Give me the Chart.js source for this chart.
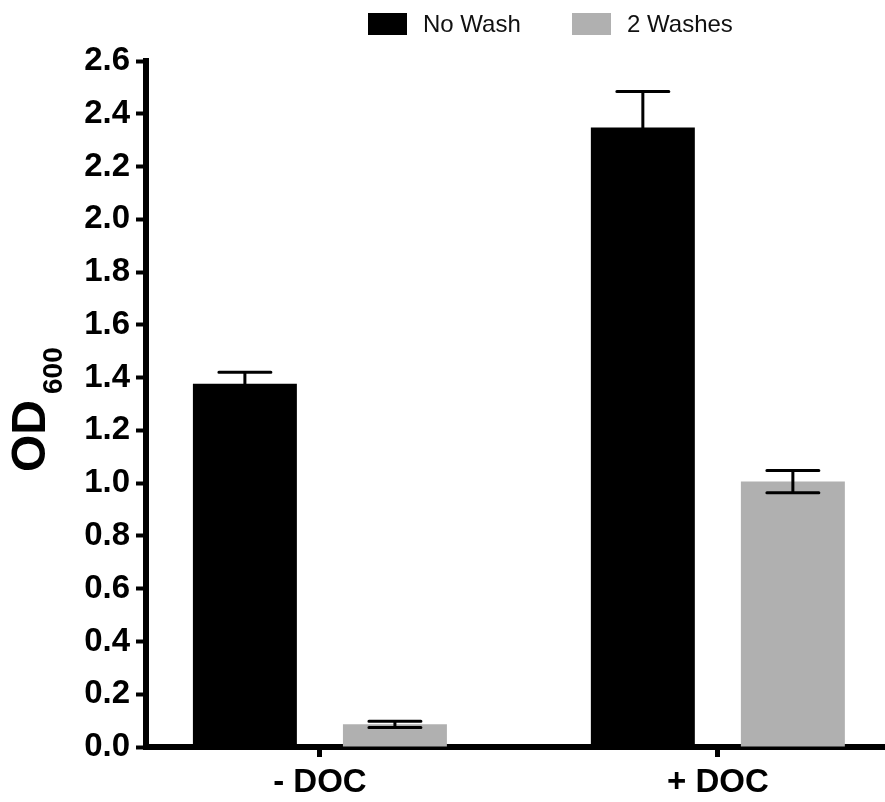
<!DOCTYPE html>
<html>
<head>
<meta charset="utf-8">
<script src="https://cdn.jsdelivr.net/npm/chart.js@4.4.0/dist/chart.umd.min.js"></script>
<style>
  body { margin: 0; background: #fff; }
  #wrap { width: 885px; height: 802px; }
</style>
</head>
<body>
<div id="wrap"><canvas id="mycanvas"></canvas></div>
<script>
// values
var categories = ["- DOC", "+ DOC"];
var seriesNames = ["No Wash", "2 Washes"];
var noWash = [1.377, 2.348];
var noWashErr = [0.043, 0.136];
var twoWashes = [0.086, 1.006];
var twoWashesErr = [0.012, 0.042];
var yMin = 0, yMax = 2.6, yStep = 0.2;

var FONT = '"Liberation Sans", Arial, Helvetica, sans-serif';

function points(vals) {
  return vals.map(function(v, i) { return { x: i, y: v }; });
}

// error bars on top of each bar
var errorBars = {
  id: 'errorBars',
  afterDatasetsDraw: function(chart) {
    var ctx = chart.ctx;
    var ys = chart.scales.y;
    ctx.save();
    ctx.strokeStyle = '#000';
    ctx.lineWidth = 3;
    ctx.lineCap = 'round';
    chart.data.datasets.forEach(function(ds, i) {
      var meta = chart.getDatasetMeta(i);
      meta.data.forEach(function(bar, j) {
        var v = ds.data[j].y, e = ds.errors[j];
        var hi = ys.getPixelForValue(v + e);
        var lo = ys.getPixelForValue(v - e);
        var half = bar.width / 4;
        ctx.beginPath();
        ctx.moveTo(bar.x, hi); ctx.lineTo(bar.x, lo);
        ctx.moveTo(bar.x - half, hi); ctx.lineTo(bar.x + half, hi);
        ctx.moveTo(bar.x - half, lo); ctx.lineTo(bar.x + half, lo);
        ctx.stroke();
      });
    });
    ctx.restore();
  }
};

// OD600 title with subscript, rotated
var yTitle = {
  id: 'yTitle',
  afterDraw: function(chart) {
    var ctx = chart.ctx;
    var a = chart.chartArea;
    var cy = (a.top + a.bottom) / 2;
    ctx.save();
    ctx.translate(45, cy);
    ctx.rotate(-Math.PI / 2);
    ctx.fillStyle = '#000';
    ctx.textBaseline = 'alphabetic';
    ctx.textAlign = 'left';
    ctx.font = 'bold 48px ' + FONT;
    var w = ctx.measureText('OD').width;
    var start = -68;
    ctx.fillText('OD', start, 0);
    ctx.font = 'bold 28px ' + FONT;
    ctx.fillText('600', start + w + 6, 17);
    ctx.restore();
  }
};

// legend at the top
var topLegend = {
  id: 'topLegend',
  afterDraw: function(chart) {
    var ctx = chart.ctx;
    var spots = [368, 572];
    ctx.save();
    ctx.font = '24px ' + FONT;
    ctx.textBaseline = 'middle';
    ctx.textAlign = 'left';
    chart.data.datasets.forEach(function(ds, i) {
      var x = spots[i];
      ctx.fillStyle = ds.backgroundColor;
      ctx.fillRect(x, 13, 39, 22);
      ctx.fillStyle = '#111';
      ctx.fillText(ds.label, x + 55, 25);
    });
    ctx.restore();
  }
};

var ctx = document.getElementById('mycanvas');

var chart = new Chart(ctx, {
  type: 'bar',
  data: {
    datasets: [
      {
        label: seriesNames[0],
        data: points(noWash),
        errors: noWashErr,
        backgroundColor: '#000000',
        borderWidth: 0
      },
      {
        label: seriesNames[1],
        data: points(twoWashes),
        errors: twoWashesErr,
        backgroundColor: '#b0b0b0',
        borderWidth: 0
      }
    ]
  },
  options: {
    responsive: true,
    maintainAspectRatio: false,
    animation: false,
    events: [],
    categoryPercentage: 0.754,
    barPercentage: 0.693,
    layout: { padding: { top: 61, left: 0, right: 0, bottom: 0 } },
    plugins: {
      legend: { display: false },
      tooltip: { enabled: false }
    },
    scales: {
      x: {
        type: 'linear',
        min: -0.437,
        max: 1.42,
        offset: false,
        z: 1,
        afterBuildTicks: function(s) {
          s.ticks = categories.map(function(c, i) { return { value: i }; });
        },
        afterFit: function(s) { s.height = 55; },
        ticks: {
          callback: function(v) { return categories[v]; },
          font: { family: FONT, size: 33, weight: 'bold' },
          color: '#000',
          padding: 6,
          maxRotation: 0,
          autoSkip: false
        },
        grid: { offset: false, drawOnChartArea: false, tickLength: 10, tickWidth: 5, tickColor: '#000' },
        border: { width: 6, color: '#000' }
      },
      y: {
        min: yMin,
        max: yMax,
        afterFit: function(s) { s.width = 146; },
        ticks: {
          stepSize: yStep,
          callback: function(v) { return v.toFixed(1); },
          font: { family: FONT, size: 33, weight: 'bold' },
          color: '#000',
          padding: 6
        },
        grid: { drawOnChartArea: false, tickLength: 10, tickWidth: 4, tickColor: '#000' },
        border: { width: 6, color: '#000' }
      }
    }
  },
  plugins: [errorBars, yTitle, topLegend]
});
</script>
</body>
</html>
